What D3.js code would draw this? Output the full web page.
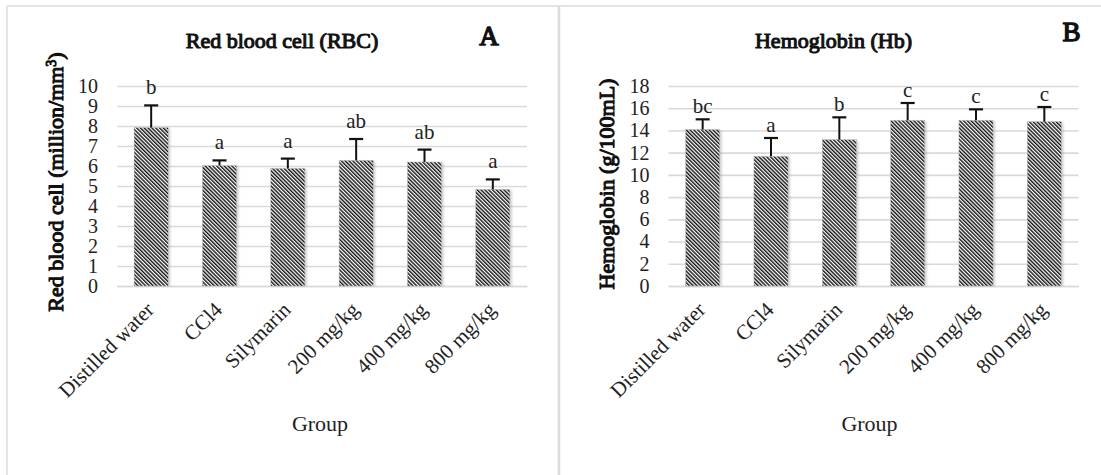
<!DOCTYPE html>
<html>
<head>
<meta charset="utf-8">
<script src="https://cdn.jsdelivr.net/npm/d3@7"></script>
<style>
  body { margin: 0; background: #fff; }
  svg { display: block; }
  svg text { font-family: "Liberation Serif", "Times New Roman", serif; }
</style>
</head>
<body>
<svg width="1101" height="475"></svg>
<script>
const groups = ["Distilled water", "CCl4", "Silymarin", "200 mg/kg", "400 mg/kg", "800 mg/kg"];

// RBC (million/mm3)
const rbcMean = [7.92, 6.02, 5.88, 6.28, 6.20, 4.83];
const rbcSd = [1.11, 0.26, 0.49, 1.07, 0.62, 0.50];
const rbcLetters = ["b", "a", "a", "ab", "ab", "a"];
const rbcTicks = [0, 1, 2, 3, 4, 5, 6, 7, 8, 9, 10];

// Hb (g/100mL)
const hbMean = [14.08, 11.67, 13.17, 14.91, 14.91, 14.79];
const hbSd = [0.92, 1.65, 2.01, 1.56, 0.99, 1.32];
const hbLetters = ["bc", "a", "b", "c", "c", "c"];
const hbTicks = [0, 2, 4, 6, 8, 10, 12, 14, 16, 18];

const svg = d3.select("svg");
svg.append("rect").attr("width", 1101).attr("height", 475).attr("fill", "#fff");

const defs = svg.append("defs");
const pat = defs.append("pattern")
  .attr("id", "hatch")
  .attr("patternUnits", "userSpaceOnUse")
  .attr("width", 2.7).attr("height", 2.7)
  .attr("patternTransform", "rotate(-45)");
pat.append("rect").attr("width", 2.7).attr("height", 2.7).attr("fill", "#fff");
pat.append("rect").attr("width", 1.45).attr("height", 2.7).attr("fill", "#161616");

defs.append("filter").attr("id", "soft")
  .append("feGaussianBlur").attr("stdDeviation", 1);

// panel frames
svg.append("line").attr("x1", 7).attr("x2", 1101).attr("y1", 6).attr("y2", 6)
  .attr("stroke", "#dcdcdc").attr("stroke-width", 1.5);
svg.append("line").attr("x1", 7).attr("x2", 7).attr("y1", 6).attr("y2", 475)
  .attr("stroke", "#dcdcdc").attr("stroke-width", 1.5);
svg.append("line").attr("x1", 559).attr("x2", 559).attr("y1", 6).attr("y2", 475)
  .attr("stroke", "#dcdcdc").attr("stroke-width", 2.5);

const panels = [
  { dx: 0, mean: rbcMean, sd: rbcSd, letters: rbcLetters, ticks: rbcTicks, max: 10,
    title: "Red blood cell (RBC)", tag: "A", tagX: 489, tagY: 45, letterGap: 11,
    yLabel: "Red blood cell (million/mm", ySup: "3", yLabelX: 63, yLabelY: 182, groupX: 320 },
  { dx: 551.5, mean: hbMean, sd: hbSd, letters: hbLetters, ticks: hbTicks, max: 18,
    title: "Hemoglobin (Hb)", tag: "B", tagX: 520, tagY: 41, letterGap: 6,
    yLabel: "Hemoglobin (g/100mL)", ySup: null, yLabelX: 62, yLabelY: 184, groupX: 318 }
];

// faux bold: serif regular plus a thin stroke
function bold(sel, w) {
  return sel.attr("font-weight", "normal")
    .attr("stroke", "#111").attr("stroke-width", w || 1.1)
    .attr("stroke-linejoin", "round")
    .attr("paint-order", "stroke");
}

panels.forEach(p => drawPanel(p));

function drawPanel(p) {
  const g = svg.append("g").attr("transform", `translate(${p.dx},0)`);
  const left = 117, right = 527, top = 86, bottom = 286;

  const x = d3.scaleBand().domain(groups).range([left, right])
    .paddingInner(0.5).paddingOuter(0.25);
  const y = d3.scaleLinear().domain([0, p.max]).range([bottom, top]);

  // gridlines + y tick labels
  const yAxis = g.append("g")
    .attr("transform", `translate(${left},0)`)
    .call(d3.axisLeft(y).tickValues(p.ticks).tickSize(-(right - left)).tickPadding(19));
  yAxis.attr("font-family", null);
  yAxis.select(".domain").remove();
  yAxis.selectAll(".tick line").attr("stroke", "#d9d9d9").attr("stroke-width", 1.6);
  yAxis.selectAll(".tick text")
    .attr("font-size", 20).attr("fill", "#222");

  // x axis
  const xAxis = g.append("g")
    .attr("transform", `translate(0,${bottom})`)
    .call(d3.axisBottom(x).tickSize(0).tickSizeOuter(0));
  xAxis.attr("font-family", null);
  xAxis.select(".domain").attr("stroke", "#d9d9d9").attr("stroke-width", 1.6);
  xAxis.selectAll(".tick text")
    .attr("font-size", 21).attr("fill", "#222")
    .attr("text-anchor", "end")
    .attr("x", 0).attr("y", 0).attr("dy", 0)
    .attr("transform", "translate(4,25) rotate(-45)");

  const data = groups.map((d, i) => ({ group: d, mean: p.mean[i], sd: p.sd[i], letter: p.letters[i] }));

  // shadows
  g.selectAll(".shadow").data(data).enter().append("rect")
    .attr("class", "shadow")
    .attr("x", d => x(d.group) + 2)
    .attr("y", d => y(d.mean) + 1)
    .attr("width", x.bandwidth())
    .attr("height", d => bottom - y(d.mean) - 1)
    .attr("fill", "#999").attr("opacity", 0.45)
    .attr("filter", "url(#soft)");

  g.selectAll(".bar").data(data).enter().append("rect")
    .attr("class", "bar")
    .attr("x", d => x(d.group))
    .attr("y", d => y(d.mean))
    .attr("width", x.bandwidth())
    .attr("height", d => bottom - y(d.mean))
    .attr("fill", "url(#hatch)")
    .attr("stroke", "#bbb").attr("stroke-width", 0.5);

  // error bars (upper only)
  const cx = d => x(d.group) + x.bandwidth() / 2;
  g.selectAll(".err").data(data).enter().append("line")
    .attr("x1", cx).attr("x2", cx)
    .attr("y1", d => y(d.mean)).attr("y2", d => y(d.mean + d.sd))
    .attr("stroke", "#111").attr("stroke-width", 2);
  g.selectAll(".cap").data(data).enter().append("line")
    .attr("x1", d => cx(d) - 7).attr("x2", d => cx(d) + 7)
    .attr("y1", d => y(d.mean + d.sd)).attr("y2", d => y(d.mean + d.sd))
    .attr("stroke", "#111").attr("stroke-width", 2.2);

  // significance letters
  g.selectAll(".letter").data(data).enter().append("text")
    .attr("x", cx)
    .attr("y", d => y(d.mean + d.sd) - p.letterGap)
    .attr("text-anchor", "middle")
    .attr("font-size", 21).attr("fill", "#222")
    .text(d => d.letter);

  // title and panel tag
  bold(g.append("text").attr("x", (left + right) / 2 - 40).attr("y", 48)
    .attr("text-anchor", "middle").attr("font-size", 22)
    .attr("fill", "#111").text(p.title));
  bold(g.append("text").attr("x", p.tagX).attr("y", p.tagY)
    .attr("text-anchor", "middle").attr("font-size", 27)
    .attr("fill", "#111").text(p.tag), 1.4);

  // y axis title
  const yt = bold(g.append("text")
    .attr("transform", `translate(${p.yLabelX},${p.yLabelY}) rotate(-90)`)
    .attr("text-anchor", "middle").attr("font-size", 22)
    .attr("fill", "#111"));
  yt.append("tspan").text(p.yLabel);
  if (p.ySup) {
    yt.append("tspan").attr("baseline-shift", "super").attr("font-size", 14).text(p.ySup);
    yt.append("tspan").text(")");
  }

  // x axis title
  g.append("text").attr("x", p.groupX).attr("y", 431)
    .attr("text-anchor", "middle").attr("font-size", 22).attr("fill", "#222")
    .text("Group");
}
</script>
</body>
</html>
